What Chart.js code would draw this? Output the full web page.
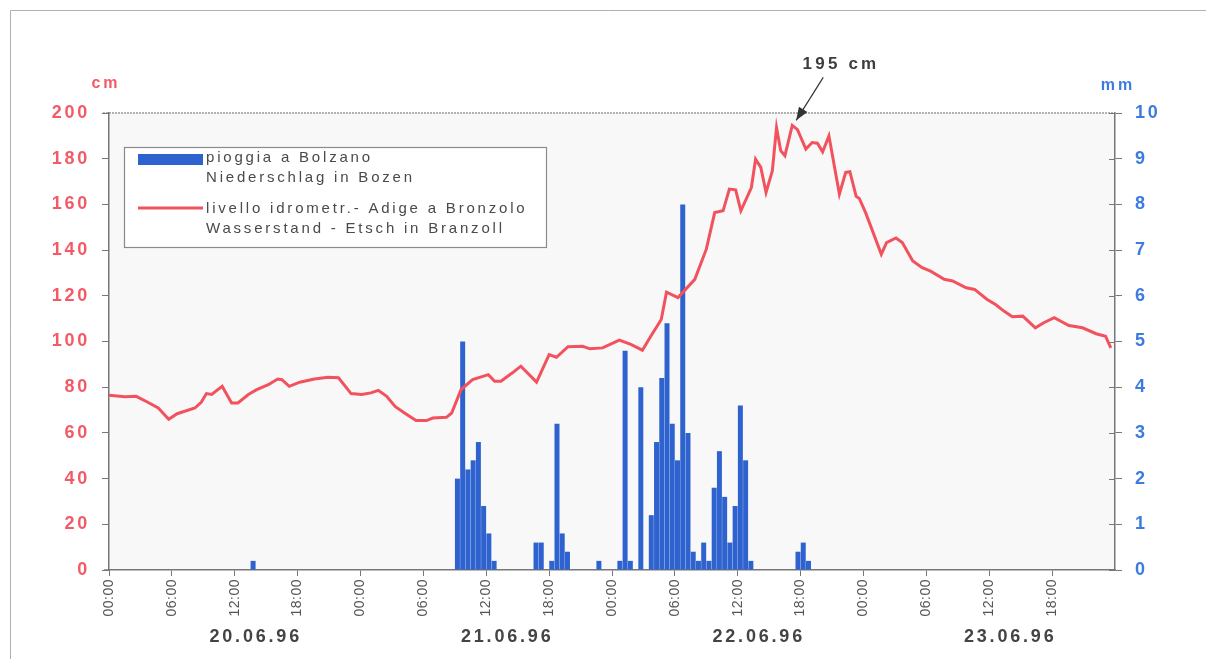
<!DOCTYPE html>
<html>
<head>
<meta charset="utf-8">
<script src="https://cdn.jsdelivr.net/npm/chart.js@4.4.1/dist/chart.umd.min.js"></script>
<style>
  html, body { margin: 0; padding: 0; background: #fff; }
  #wrap { width: 1206px; height: 659px; }
</style>
</head>
<body>
<div id="wrap"><canvas id="chart" width="1206" height="659"></canvas></div>
<script>
// ore contate dal 20.06.96 00:00
const levelHours = [
    0, 1.5, 2.6, 3.7, 4.7, 5.7, 6.5, 8.2, 8.8, 9.3, 9.8, 10.8, 11.7, 12.3, 13.3, 14.1,
    15.2, 16.1, 16.5, 17.2, 18.2, 19.6, 20.9, 21.9, 23.1, 24.1, 25.0, 25.7, 26.5, 27.3,
    28.2, 29.3, 30.3, 30.9, 32.2, 32.7, 33.6, 34.7, 36.2, 36.8, 37.4, 38.5, 39.3, 40.8,
    42.0, 42.7, 43.8, 45.2, 45.9, 47.1, 48.7, 49.8, 50.9, 51.7, 52.7, 53.2, 54.3, 55.9,
    57.0, 57.8, 58.6, 59.2, 59.8, 60.3, 61.3, 61.7, 62.2, 62.7, 63.3, 63.7, 64.1, 64.5,
    65.2, 65.7, 66.5, 67.1, 67.6, 68.1, 68.7, 69.7, 70.3, 70.7, 71.3, 71.6, 72.2, 73.7,
    74.2, 75.1, 75.7, 76.7, 77.6, 78.4, 79.7, 80.5, 81.8, 82.6, 83.8, 84.6, 85.4, 86.2,
    87.2, 88.4, 89.2, 90.2, 91.6, 92.9, 94.2, 95.1, 95.6
];
const levelCm = [
    76.5, 75.8, 76, 73.4, 70.9, 66, 68.4, 70.9, 73.4, 77.2, 76.8, 80.4, 73.1, 73.1, 76.8, 78.9,
    81.1, 83.6, 83.3, 80.4, 82.2, 83.6, 84.3, 84.1, 77.2, 76.8, 77.5, 78.6, 76, 71.6,
    68.7, 65.4, 65.4, 66.5, 66.8, 68.7, 79, 83.3, 85.5, 82.6, 82.6, 86.3, 89.2, 82.2,
    94.3, 93.1, 97.7, 97.9, 96.8, 97.2, 100.6, 98.7, 96.2, 102.3, 109.6, 121.6, 119.2, 127.2,
    140.4, 156.4, 157.2, 166.7, 166.4, 157.2, 167.4, 179.8, 176.2, 165.2, 174.7, 193.6, 183.5, 181.3,
    194.6, 192.7, 184.2, 187.1, 186.8, 183, 190, 164.5, 174, 174.3, 163.5, 162.6, 156.4, 138.2,
    143.3, 145.3, 143.3, 135.2, 132.3, 130.8, 127.2, 126.5, 123.5, 122.8, 118.4, 116.2, 113.3, 110.8,
    111.1, 106, 108.2, 110.4, 107, 106, 103.4, 102.3, 97.2
];

// pioggia: inizio della mezz'ora (ore) e millimetri
const rainHours = [
    13.5, 33.0, 33.5, 34.0, 34.5, 35.0, 35.5, 36.0, 36.5, 40.5, 41.0, 42.0, 42.5, 43.0, 43.5,
    46.5, 48.5, 49.0, 49.5, 50.5, 51.5, 52.0, 52.5, 53.0, 53.5, 54.0, 54.5, 55.0, 55.5, 56.0,
    56.5, 57.0, 57.5, 58.0, 58.5, 59.0, 59.5, 60.0, 60.5, 61.0, 65.5, 66.0, 66.5
];
const rainMm = [
    0.2, 2.0, 5.0, 2.2, 2.4, 2.8, 1.4, 0.8, 0.2, 0.6, 0.6, 0.2, 3.2, 0.8, 0.4,
    0.2, 0.2, 4.8, 0.2, 4.0, 1.2, 2.8, 4.2, 5.4, 3.2, 2.4, 8.0, 3.0, 0.4, 0.2,
    0.6, 0.2, 1.8, 2.6, 1.6, 0.6, 1.4, 3.6, 2.4, 0.2, 0.4, 0.6, 0.2
];

const hourTicks = [0, 6, 12, 18, 24, 30, 36, 42, 48, 54, 60, 66, 72, 78, 84, 90];
const tickLabels = ['00:00', '06:00', '12:00', '18:00'];
const dayLabels = ['20.06.96', '21.06.96', '22.06.96', '23.06.96'];
const legendRain = ['pioggia a Bolzano', 'Niederschlag in Bozen'];
const legendLevel = ['livello idrometr.- Adige a Bronzolo', 'Wasserstand - Etsch in Branzoll'];
const peakText = '195 cm';

const lineColor = '#f2525e';
const barColor = '#2d62cf';
const redText = '#f25a66';
const blueText = '#3c7be0';
const darkText = '#444';
const fontName = '"Liberation Sans", Arial, sans-serif';

// spaziatura lettere per le etichette degli assi
const spacing = { y: '2.7px', y2: '2.7px', x: '0.5px' };

const spacingPlugin = {
    id: 'spacing',
    beforeDraw(chart) {
        Object.keys(spacing).forEach(id => {
            const s = chart.scales[id];
            if (!s || s._spaced) return;
            const orig = s.drawLabels;
            s.drawLabels = function(area) {
                this.ctx.save();
                this.ctx.letterSpacing = spacing[id];
                orig.call(this, area);
                this.ctx.restore();
            };
            s._spaced = true;
        });
    }
};

const framePlugin = {
    id: 'frame',
    beforeDraw(chart) {
        const { ctx, chartArea: a } = chart;
        ctx.save();
        ctx.fillStyle = '#fff';
        ctx.fillRect(0, 0, chart.width, chart.height);
        ctx.fillStyle = '#f8f8f8';
        ctx.fillRect(a.left, a.top, a.right - a.left, a.bottom - a.top);

        // cornice della pagina
        ctx.strokeStyle = '#b0b0b0';
        ctx.lineWidth = 1;
        ctx.beginPath();
        ctx.moveTo(10.5, chart.height);
        ctx.lineTo(10.5, 10.5);
        ctx.lineTo(chart.width, 10.5);
        ctx.stroke();

        // bordo superiore punteggiato
        ctx.strokeStyle = '#999';
        ctx.lineWidth = 1.5;
        ctx.setLineDash([2, 1]);
        ctx.beginPath();
        ctx.moveTo(a.left - 6, a.top);
        ctx.lineTo(a.right, a.top);
        ctx.stroke();
        ctx.setLineDash([]);

        // asse x un po' prolungato a sinistra
        ctx.strokeStyle = '#777';
        ctx.beginPath();
        ctx.moveTo(a.left - 5, a.bottom);
        ctx.lineTo(a.left, a.bottom);
        ctx.stroke();

        // tacche interne dell'asse destro
        const r = chart.scales.y2;
        ctx.lineWidth = 1;
        r.ticks.forEach((t, i) => {
            const y = Math.round(r.getPixelForTick(i)) + 0.5;
            ctx.beginPath();
            ctx.moveTo(a.right - 6, y);
            ctx.lineTo(a.right, y);
            ctx.stroke();
        });
        ctx.restore();
    }
};

const extrasPlugin = {
    id: 'extras',
    afterDraw(chart) {
        const { ctx } = chart;
        const xs = chart.scales.x;
        const ys = chart.scales.y;
        ctx.save();
        ctx.textBaseline = 'middle';

        // unità
        ctx.font = 'bold 16px ' + fontName;
        ctx.letterSpacing = '3px';
        ctx.textAlign = 'center';
        ctx.fillStyle = redText;
        ctx.fillText('cm', 106, 84);
        ctx.fillStyle = blueText;
        ctx.fillText('mm', 1118, 86);

        // date
        ctx.font = 'bold 18px ' + fontName;
        ctx.letterSpacing = '2.8px';
        ctx.fillStyle = darkText;
        dayLabels.forEach((d, i) => {
            ctx.fillText(d, xs.getPixelForValue(14 + 24 * i), 637);
        });

        // legenda
        ctx.letterSpacing = '0px';
        ctx.fillStyle = '#fff';
        ctx.fillRect(124, 147, 422, 100);
        ctx.strokeStyle = '#8a8a8a';
        ctx.lineWidth = 1.2;
        ctx.strokeRect(124.5, 147.5, 422, 100);
        ctx.fillStyle = barColor;
        ctx.fillRect(138, 154, 65, 11);
        ctx.strokeStyle = lineColor;
        ctx.lineWidth = 3;
        ctx.beginPath();
        ctx.moveTo(138, 208);
        ctx.lineTo(203, 208);
        ctx.stroke();
        ctx.font = '15px ' + fontName;
        ctx.letterSpacing = '2.8px';
        ctx.textAlign = 'left';
        ctx.fillStyle = '#4a4a4a';
        ctx.fillText(legendRain[0], 206, 158);
        ctx.fillText(legendRain[1], 206, 178);
        ctx.fillText(legendLevel[0], 206, 209);
        ctx.fillText(legendLevel[1], 206, 229);

        // picco
        let pk = 0;
        levelCm.forEach((v, i) => { if (v > levelCm[pk]) pk = i; });
        const tipX = xs.getPixelForValue(levelHours[pk]) + 4;
        const tipY = ys.getPixelForValue(levelCm[pk]) - 5;
        const tailX = tipX + 27;
        const tailY = tipY - 43;
        ctx.strokeStyle = '#333';
        ctx.lineWidth = 1.2;
        ctx.beginPath();
        ctx.moveTo(tailX, tailY);
        ctx.lineTo(tipX, tipY);
        ctx.stroke();
        const ang = Math.atan2(tipY - tailY, tipX - tailX);
        ctx.fillStyle = '#333';
        ctx.beginPath();
        ctx.moveTo(tipX, tipY);
        ctx.lineTo(tipX - 13 * Math.cos(ang) + 5 * Math.sin(ang), tipY - 13 * Math.sin(ang) - 5 * Math.cos(ang));
        ctx.lineTo(tipX - 13 * Math.cos(ang) - 5 * Math.sin(ang), tipY - 13 * Math.sin(ang) + 5 * Math.cos(ang));
        ctx.closePath();
        ctx.fill();
        ctx.font = 'bold 17px ' + fontName;
        ctx.letterSpacing = '3.2px';
        ctx.textAlign = 'center';
        ctx.fillStyle = '#3d3d3d';
        ctx.fillText(peakText, 841, 64);
        ctx.restore();
    }
};

const chart = new Chart(document.getElementById('chart'), {
    type: 'bar',
    data: {
        datasets: [
            {
                type: 'line',
                label: 'livello idrometrico',
                data: levelHours.map((h, i) => ({ x: h, y: levelCm[i] })),
                yAxisID: 'y',
                borderColor: lineColor,
                borderWidth: 3,
                pointRadius: 0,
                tension: 0,
                order: 0,
            },
            {
                type: 'bar',
                label: 'pioggia',
                data: rainHours.map((h, i) => ({ x: h + 0.25, y: rainMm[i] })),
                yAxisID: 'y2',
                backgroundColor: barColor,
                barPercentage: 0.95,
                categoryPercentage: 1,
                order: 1,
            },
        ],
    },
    options: {
        responsive: false,
        animation: false,
        devicePixelRatio: 1,
        layout: { padding: { top: 113, left: 0, right: 0, bottom: 0 } },
        plugins: {
            legend: { display: false },
            tooltip: { enabled: false },
        },
        scales: {
            x: {
                type: 'linear',
                min: 0,
                max: 96,
                offset: false,
                afterBuildTicks: s => { s.ticks = hourTicks.map(v => ({ value: v })); },
                afterFit: s => { s.height = 89; },
                grid: { drawOnChartArea: false, tickLength: 6, color: '#777', offset: false },
                border: { color: '#777', width: 1.5 },
                ticks: {
                    autoSkip: false,
                    maxRotation: 90,
                    minRotation: 90,
                    padding: 3,
                    color: '#555',
                    font: { family: fontName, size: 14 },
                    callback: v => tickLabels[(v / 6) % 4],
                },
            },
            y: {
                position: 'left',
                min: 0,
                max: 200,
                afterFit: s => { s.width = 109; },
                grid: { drawOnChartArea: false, tickLength: 7, color: '#777' },
                border: { color: '#777', width: 1.5 },
                ticks: {
                    stepSize: 20,
                    padding: 12,
                    color: redText,
                    font: { family: fontName, size: 18, weight: 'bold' },
                },
            },
            y2: {
                position: 'right',
                min: 0,
                max: 10,
                afterFit: s => { s.width = 91; },
                grid: { drawOnChartArea: false, tickLength: 7, color: '#777' },
                border: { color: '#777', width: 1.5 },
                ticks: {
                    stepSize: 1,
                    padding: 13,
                    color: blueText,
                    font: { family: fontName, size: 18, weight: 'bold' },
                },
            },
        },
    },
    plugins: [framePlugin, spacingPlugin, extrasPlugin],
});
</script>
</body>
</html>
